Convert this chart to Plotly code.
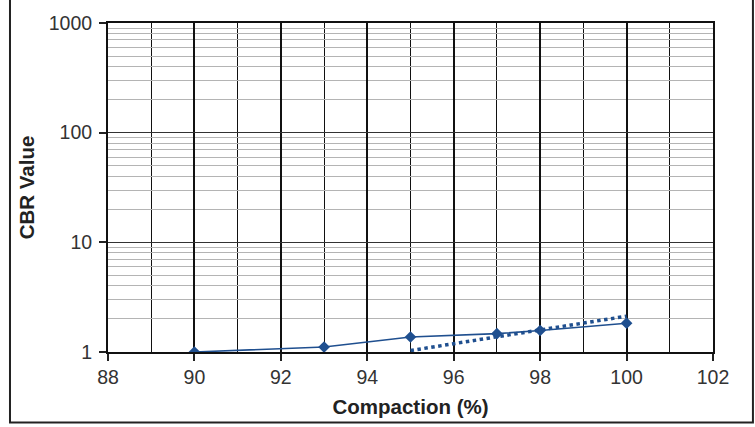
import plotly.graph_objects as go

# Measured CBR values against degree of compaction
compaction = [90, 93, 95, 97, 98, 100]
cbr = [1.0, 1.11, 1.37, 1.47, 1.57, 1.83]

# Dotted trend across the upper compaction range
trend_compaction = [95, 100]
trend_cbr = [1.03, 2.12]

x_ticks = [88, 90, 92, 94, 96, 98, 100, 102]
y_ticks = [1, 10, 100, 1000]

series_color = "#1f4f8f"
axis_font = dict(family="Liberation Sans, Arial, sans-serif", size=19.5, color="#333333")
title_font = dict(family="Liberation Sans, Arial, sans-serif", size=20.5, color="#222222")

fig = go.Figure()

fig.add_trace(go.Scatter(
    x=compaction, y=cbr, mode="lines+markers",
    line=dict(color=series_color, width=1.6),
    marker=dict(symbol="diamond", size=9, color=series_color),
    showlegend=False,
))

fig.add_trace(go.Scatter(
    x=trend_compaction, y=trend_cbr, mode="lines",
    line=dict(color=series_color, width=3.5, dash="dot"),
    showlegend=False,
))

fig.update_xaxes(
    range=[88, 102],
    tickvals=x_ticks, ticktext=[str(v) for v in x_ticks],
    ticks="outside", ticklen=7, tickcolor="#222222", tickwidth=1.5,
    showgrid=True, gridcolor="#111111", gridwidth=1.6,
    minor=dict(dtick=1, showgrid=True, gridcolor="#111111", gridwidth=1.4, ticks=""),
    showline=True, linecolor="#111111", linewidth=2, mirror=True,
    tickfont=axis_font,
    title=dict(text="<b>Compaction (%)</b>", font=title_font, standoff=12),
    zeroline=False,
)

fig.update_yaxes(
    type="log", range=[0, 3],
    tickvals=y_ticks, ticktext=[str(v) for v in y_ticks],
    ticks="outside", ticklen=7, tickcolor="#222222", tickwidth=1.5,
    ticklabelstandoff=3,
    showgrid=True, gridcolor="#333333", gridwidth=1.4,
    minor=dict(dtick="D1", showgrid=True, gridcolor="#b4b4b4", gridwidth=1, ticks=""),
    showline=True, linecolor="#111111", linewidth=2, mirror=True,
    tickfont=axis_font,
    title=dict(text="<b>CBR Value</b>", font=title_font, standoff=9),
    zeroline=False,
)

# Outer border around the whole chart
fig.add_shape(type="rect", xref="paper", yref="paper",
              x0=-0.162, x1=1.066, y0=-0.214, y1=1.075,
              line=dict(color="#222222", width=2), layer="below")

fig.update_layout(
    width=755, height=427,
    margin=dict(l=108, r=42, t=20, b=75),
    paper_bgcolor="white", plot_bgcolor="white",
)

fig.write_html("out.html")
